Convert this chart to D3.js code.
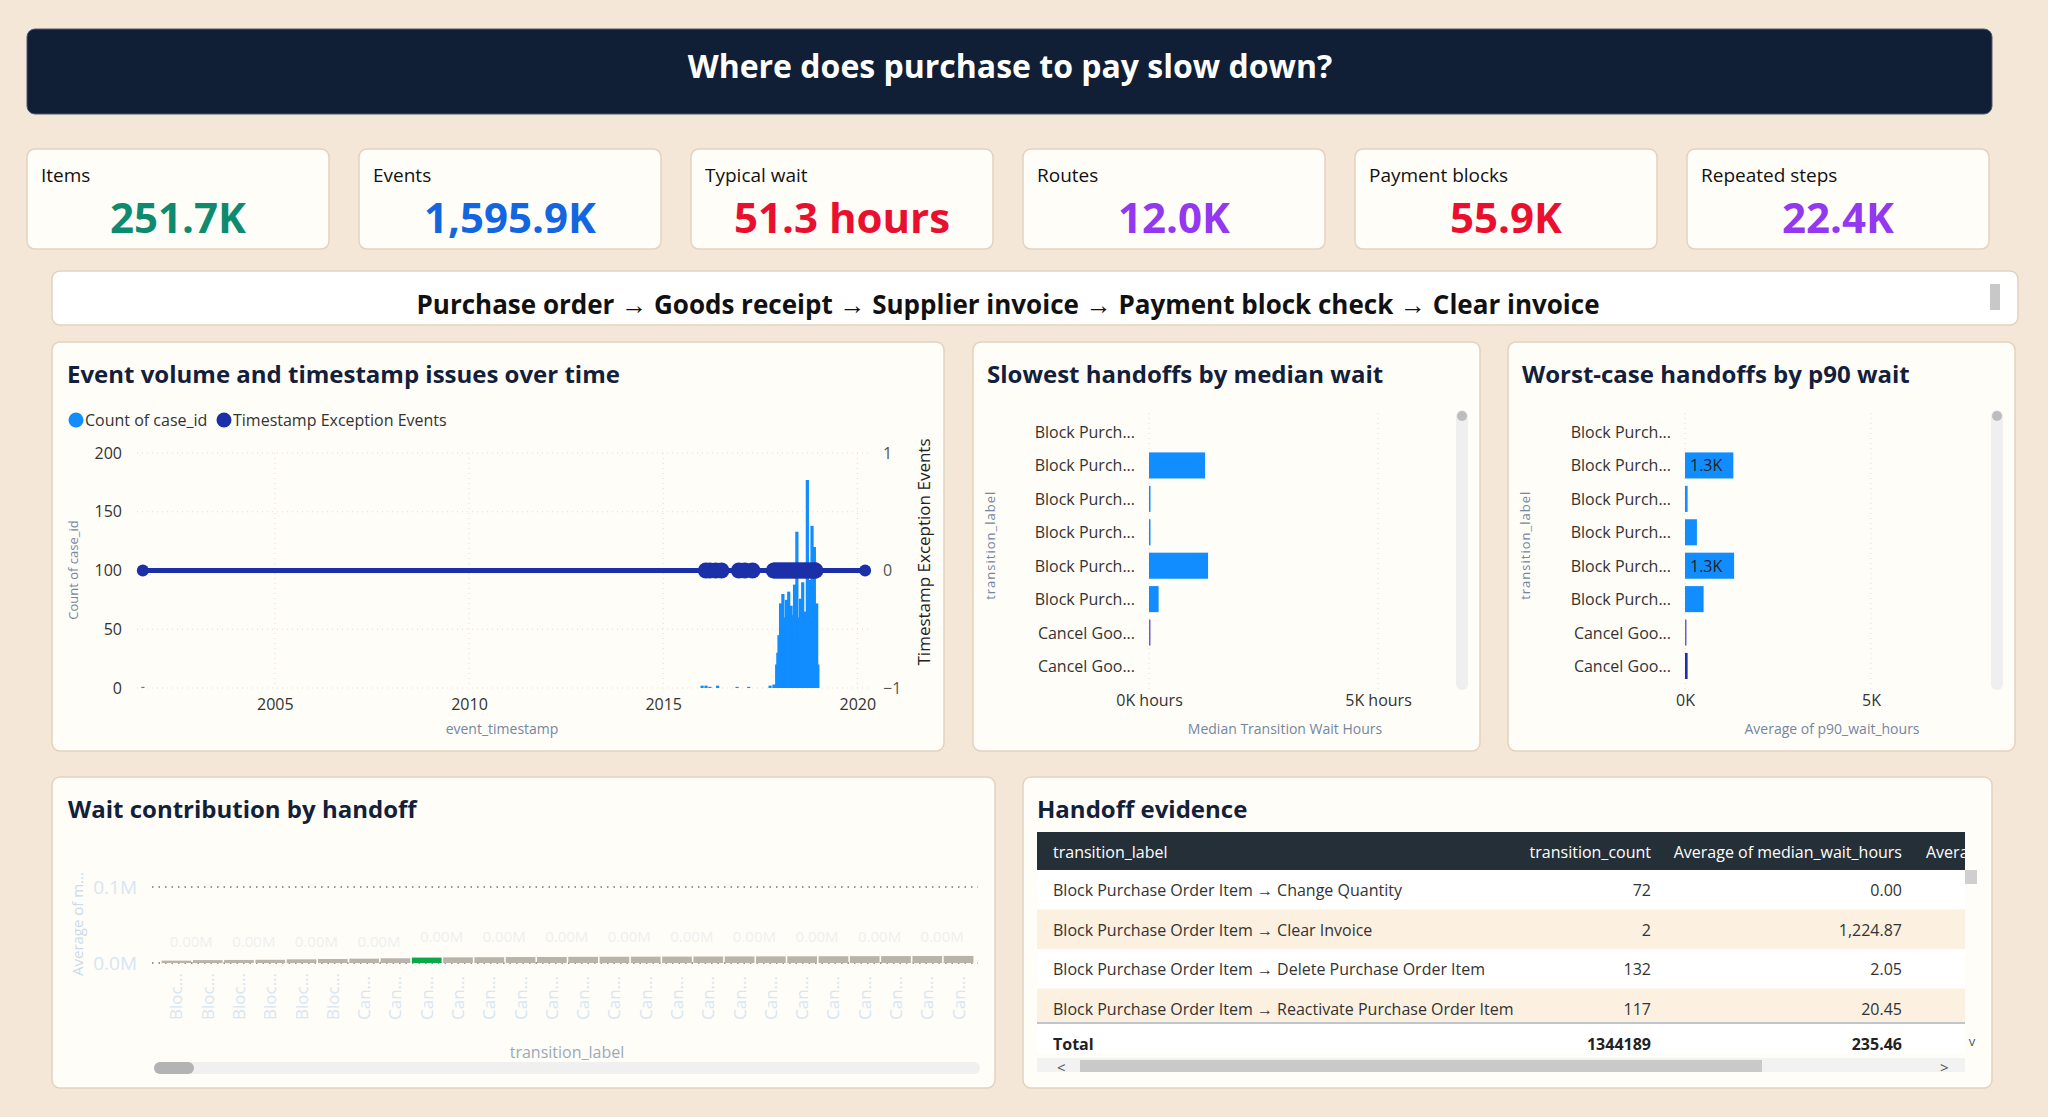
<!DOCTYPE html>
<html><head><meta charset="utf-8">
<script src="https://cdn.jsdelivr.net/npm/d3@7"></script>
<style>
html,body{margin:0;padding:0;background:#F4E7D7;}
svg{display:block;font-family:"Open Sans","Noto Sans",sans-serif;}
</style></head><body>
<svg id="c" width="2048" height="1117"></svg>
<script>
// ---------- data ----------
const pageTitle = "Where does purchase to pay slow down?";
const kpiLabels = ["Items","Events","Typical wait","Routes","Payment blocks","Repeated steps"];
const kpiValues = ["251.7K","1,595.9K","51.3 hours","12.0K","55.9K","22.4K"];
const kpiColors = ["#0E8A6E","#1366E0","#E8102E","#9438F0","#E8102E","#9438F0"];
const processSteps = ["Purchase order","Goods receipt","Supplier invoice","Payment block check","Clear invoice"];

// chart 1
const volumeDates = [2001.6,2016.0,2016.1,2016.2,2016.4,2016.9,2017.2,2017.75,2017.85,
  2017.92,2017.95,2017.98,2018.02,2018.05,2018.08,2018.11,2018.14,2018.17,2018.2,2018.23,2018.26,2018.29,
  2018.32,2018.35,2018.38,2018.41,2018.44,2018.47,2018.5,2018.53,2018.56,2018.59,2018.62,2018.65,2018.68,
  2018.71,2018.74,2018.77,2018.8,2018.83,2018.86,2018.89,2018.92,2018.95,2018.98];
const volumeCounts = [1,2,2,1,2,1,1,2,3,
  20,30,45,72,40,80,60,36,75,50,82,40,70,55,62,88,45,133,60,52,76,48,90,58,65,40,
  177,55,92,30,138,66,120,40,72,20];
const exceptionDates = [2001.6,2016.1,2016.2,2016.35,2016.5,2016.95,2017.1,2017.3,
  2017.85,2017.95,2018.05,2018.15,2018.25,2018.35,2018.45,2018.55,2018.65,2018.75,2018.85,2018.92,2020.2];
const exceptionValues = [0,0,0,0,0,0,0,0,0,0,0,0,0,0,0,0,0,0,0,0,0];
const yearTicks = [2005,2010,2015,2020];
const countTicks = [0,50,100,150,200];
const excTicks = [-1,0,1];

// chart 2 / 3
const handoffLabels = ["Block Purch...","Block Purch...","Block Purch...","Block Purch...","Block Purch...","Block Purch...","Cancel Goo...","Cancel Goo..."];
const medianWait = [0,1225,8,30,1290,210,12,0];
const p90Wait = [0,1300,70,320,1320,500,25,70];
const p90Labels = ["","1.3K","","","1.3K","","",""];
const barColors = ["#118DFF","#118DFF","#118DFF","#118DFF","#118DFF","#118DFF","#6B5FD9","#1A2FA8"];

// chart 4
const contribLabels = ["Bloc...","Bloc...","Bloc...","Bloc...","Bloc...","Bloc...","Can...","Can...","Can...","Can...","Can...","Can...","Can...","Can...","Can...","Can...","Can...","Can...","Can...","Can...","Can...","Can...","Can...","Can...","Can...","Can..."];
const contribValues = [0.0005,0.0012,0.0014,0.0016,0.0022,0.0026,0.0031,0.0036,0.0045,0.0048,0.0050,0.0052,0.0053,0.0055,0.0056,0.0057,0.0058,0.0059,0.0060,0.0061,0.0062,0.0063,0.0064,0.0065,0.0066,0.0067];
const contribHighlight = 8;

// table
const tableHeaders = ["transition_label","transition_count","Average of median_wait_hours","Avera"];
const tableLabels = ["Block Purchase Order Item → Change Quantity","Block Purchase Order Item → Clear Invoice","Block Purchase Order Item → Delete Purchase Order Item","Block Purchase Order Item → Reactivate Purchase Order Item"];
const tableCounts = ["72","2","132","117"];
const tableMedians = ["0.00","1,224.87","2.05","20.45"];
const tableTotal = ["Total","1344189","235.46"];

// ---------- drawing ----------
const svg = d3.select("#c");
const dark = "#12203A";
function panel(x,y,w,h,fill="#FFFDF8"){
  svg.append("rect").attr("x",x).attr("y",y).attr("width",w).attr("height",h).attr("rx",8)
    .attr("fill",fill).attr("stroke","#E2D2BE").attr("stroke-width",1.5);
}
// header
svg.append("rect").attr("x",27).attr("y",29).attr("width",1965).attr("height",85).attr("rx",8).attr("fill","#111F36").attr("stroke","#4A5A75");
svg.append("text").attr("x",1010).attr("y",78).attr("text-anchor","middle").attr("fill","#fff")
  .attr("font-size",32).attr("font-weight",700).text(pageTitle);
// KPIs
kpiLabels.forEach((l,i)=>{
  const x=27+i*332;
  panel(x,149,302,100);
  svg.append("text").attr("x",x+14).attr("y",182).attr("font-size",19).attr("fill","#111").text(l);
  svg.append("text").attr("x",x+151).attr("y",233).attr("text-anchor","middle").attr("font-size",42).attr("font-weight",700).attr("fill",kpiColors[i]).text(kpiValues[i]);
});
// process banner
panel(52,271,1966,54,"#FFFFFF");
svg.append("rect").attr("x",1990).attr("y",284).attr("width",10).attr("height",26).attr("fill","#C8C8C8");
{
  const t=svg.append("text").attr("x",1008).attr("y",314).attr("text-anchor","middle").attr("font-size",26).attr("font-weight",700).attr("fill","#111");
  processSteps.forEach((s,i)=>{
    if(i>0) t.append("tspan").attr("font-weight",400).text(" \u2192 ");
    t.append("tspan").text(s);
  });
}
// ----- chart 1 -----
panel(52,342,892,409);
svg.append("text").attr("x",67).attr("y",383).attr("font-size",24).attr("font-weight",700).attr("fill",dark).text("Event volume and timestamp issues over time");
[[76,"#118DFF","Count of case_id"],[224,"#1A2FA8","Timestamp Exception Events"]].forEach(([x,c,t])=>{
  svg.append("circle").attr("cx",x).attr("cy",420).attr("r",7.5).attr("fill",c);
  svg.append("text").attr("x",x+9).attr("y",426).attr("font-size",16).attr("fill","#333").text(t);
});
{
  const x=d3.scaleLinear().domain([2001.45,2020.3]).range([137,869]);
  const y=d3.scaleLinear().domain([0,200]).range([688,453]);
  const y2=d3.scaleLinear().domain([-1,1]).range([688,453]);
  const g=svg.append("g");
  countTicks.forEach(t=>g.append("line").attr("x1",137).attr("x2",869).attr("y1",y(t)).attr("y2",y(t)).attr("stroke","#E8DCCB").attr("stroke-dasharray","1,4"));
  yearTicks.forEach(t=>g.append("line").attr("x1",x(t)).attr("x2",x(t)).attr("y1",453).attr("y2",688).attr("stroke","#E8DCCB").attr("stroke-dasharray","1,4"));
  g.append("g").attr("transform","translate(125,0)").call(d3.axisLeft(y).tickValues(countTicks).tickSize(0))
   .call(a=>{a.select(".domain").remove();a.selectAll("text").attr("font-size",16).attr("fill","#333").attr("font-family","Open Sans");});
  g.append("g").attr("transform","translate(880,0)").call(d3.axisRight(y2).tickValues(excTicks).tickSize(0).tickFormat(d3.format("d")))
   .call(a=>{a.select(".domain").remove();a.selectAll("text").attr("font-size",16).attr("fill","#555").attr("font-family","Open Sans");});
  g.append("g").attr("transform","translate(0,696)").call(d3.axisBottom(x).tickValues(yearTicks).tickSize(0).tickFormat(d3.format("d")))
   .call(a=>{a.select(".domain").remove();a.selectAll("text").attr("font-size",16).attr("fill","#333").attr("font-family","Open Sans");});
  g.selectAll(".vb").data(volumeDates).join("rect").attr("fill","#118DFF")
   .attr("x",d=>x(d)-1.5).attr("width",3.2)
   .attr("y",(d,i)=>y(volumeCounts[i])).attr("height",(d,i)=>688-y(volumeCounts[i]));
  g.append("line").attr("x1",x(2001.6)).attr("x2",x(2020.2)).attr("y1",y2(0)).attr("y2",y2(0)).attr("stroke","#1A2FA8").attr("stroke-width",5);
  g.selectAll(".ed").data(exceptionDates).join("circle").attr("cx",d=>x(d)).attr("cy",(d,i)=>y2(exceptionValues[i]))
   .attr("r",(d,i)=>(i===0||i===exceptionDates.length-1)?6:8).attr("fill","#1A2FA8");
  g.append("rect").attr("x",x(2017.83)).attr("y",y2(0)-8).attr("width",x(2018.97)-x(2017.83)).attr("height",16).attr("fill","#1A2FA8");
  svg.append("text").attr("transform","translate(78,570) rotate(-90)").attr("text-anchor","middle").attr("font-size",13).attr("fill","#7486A0").text("Count of case_id");
  svg.append("text").attr("transform","translate(930,552) rotate(-90)").attr("text-anchor","middle").attr("font-size",17).attr("fill","#222").text("Timestamp Exception Events");
  svg.append("text").attr("x",502).attr("y",734).attr("text-anchor","middle").attr("font-size",14).attr("fill","#7486A0").text("event_timestamp");
}
// ----- chart 2 & 3 -----
function hbar(px,vals,x0,x1,maxV,tickVals,tickFmt,title,axisTitle,axisTitleX,labels){
  panel(px,342,507,409);
  svg.append("text").attr("x",px+14).attr("y",383).attr("font-size",24).attr("font-weight",700).attr("fill",dark).text(title);
  const x=d3.scaleLinear().domain([0,maxV]).range([x0,x1]);
  const y=d3.scaleBand().domain(d3.range(vals.length)).range([419,679]).paddingInner(0.22).paddingOuter(0);
  tickVals.forEach(t=>svg.append("line").attr("x1",x(t)).attr("x2",x(t)).attr("y1",413).attr("y2",690).attr("stroke","#E8DCCB").attr("stroke-dasharray","1,4"));
  svg.append("g").attr("transform","translate(0,692)").call(d3.axisBottom(x).tickValues(tickVals).tickSize(0).tickFormat(tickFmt))
   .call(a=>{a.select(".domain").remove();a.selectAll("text").attr("font-size",16).attr("fill","#333").attr("font-family","Open Sans");});
  handoffLabels.forEach((l,i)=>svg.append("text").attr("x",x0-14).attr("y",y(i)+y.bandwidth()/2+6).attr("text-anchor","end").attr("font-size",16).attr("fill","#333").text(l));
  svg.selectAll(null).data(vals).join("rect").attr("x",x0).attr("y",(d,i)=>y(i)).attr("height",y.bandwidth())
    .attr("width",d=>d>0?Math.max(1.5,x(d)-x0):0).attr("fill",(d,i)=>barColors[i]);
  if(labels) labels.forEach((t,i)=>{ if(t) svg.append("text").attr("x",x0+5).attr("y",y(i)+y.bandwidth()/2+6).attr("font-size",16).attr("fill","#222").text(t);});
  svg.append("text").attr("transform",`translate(${px+22},${y(3)+y.bandwidth()}) rotate(-90)`).attr("text-anchor","middle").attr("font-size",13).attr("fill","#7486A0").attr("letter-spacing",1).text("transition_label");
  svg.append("text").attr("x",axisTitleX).attr("y",734).attr("text-anchor","middle").attr("font-size",14).attr("fill","#7486A0").text(axisTitle);
  svg.append("rect").attr("x",px+483).attr("y",410).attr("width",12).attr("height",280).attr("rx",6).attr("fill","#EFEFEF");
  svg.append("circle").attr("cx",px+489).attr("cy",416).attr("r",5).attr("fill","#BDBDBD");
}
hbar(973,medianWait,1149,1378,5000,[0,5000],d=>d3.format(".0f")(d/1000)+"K hours","Slowest handoffs by median wait","Median Transition Wait Hours",1285);
hbar(1508,p90Wait,1685,1871,5000,[0,5000],d=>d3.format(".0f")(d/1000)+"K","Worst-case handoffs by p90 wait","Average of p90_wait_hours",1832,p90Labels);

// ----- chart 4 -----
panel(52,777,943,311);
svg.append("text").attr("x",68).attr("y",818).attr("font-size",24).attr("font-weight",700).attr("fill",dark).text("Wait contribution by handoff");
{
  const x=d3.scaleBand().domain(d3.range(contribLabels.length)).range([160,975]).padding(0.05);
  const y=d3.scaleLinear().domain([0,0.1]).range([963,887]);
  [0,0.1].forEach(t=>svg.append("line").attr("x1",152).attr("x2",978).attr("y1",y(t)).attr("y2",y(t)).attr("stroke","#333").attr("stroke-dasharray","1.5,5"));
  svg.append("g").attr("transform","translate(140,0)").call(d3.axisLeft(y).tickValues([0,0.1]).tickSize(0).tickFormat(d=>d3.format(".1f")(d)+"M"))
   .call(a=>{a.select(".domain").remove();a.selectAll("text").attr("font-size",19).attr("fill","#D6E6F2").attr("font-family","Open Sans");});
  svg.selectAll(null).data(contribValues).join("rect").attr("x",(d,i)=>x(i)).attr("width",x.bandwidth())
    .attr("y",d=>y(d)-2).attr("height",d=>963-y(d)+2).attr("fill",(d,i)=>i===contribHighlight?"#0BA84A":"#B9B4AA");
  contribValues.forEach((d,i)=>{ if(i%2===0) svg.append("text").attr("x",x(i)+x.bandwidth()).attr("y",947-(i>7?5:0)).attr("text-anchor","middle").attr("font-size",15).attr("fill","#EEF0EE").text("0.00M");});
  contribLabels.forEach((l,i)=>svg.append("text").attr("transform",`translate(${x(i)+x.bandwidth()/2+6},1020) rotate(-90)`).attr("font-size",17).attr("fill","#D6E6F2").text(l));
  svg.append("text").attr("transform","translate(83,924) rotate(-90)").attr("text-anchor","middle").attr("font-size",15).attr("fill","#C9DBEA").text("Average of m...");
  svg.append("text").attr("x",567).attr("y",1058).attr("text-anchor","middle").attr("font-size",16).attr("fill","#9AAABB").text("transition_label");
  svg.append("rect").attr("x",154).attr("y",1062).attr("width",826).attr("height",12).attr("rx",6).attr("fill","#F0F0F0");
  svg.append("rect").attr("x",154).attr("y",1062).attr("width",40).attr("height",12).attr("rx",6).attr("fill","#B3B3B3");
}
// ----- table -----
panel(1023,777,969,311);
svg.append("text").attr("x",1037).attr("y",818).attr("font-size",24).attr("font-weight",700).attr("fill",dark).text("Handoff evidence");
{
  const tx=1037, right=1965;
  svg.append("clipPath").attr("id","tc").append("rect").attr("x",tx).attr("y",830).attr("width",right-tx).attr("height",250);
  const g=svg.append("g").attr("clip-path","url(#tc)");
  g.append("rect").attr("x",tx).attr("y",832).attr("width",right-tx).attr("height",38).attr("fill","#252F38");
  const colX=[1053,1651,1902,1926], anchors=["start","end","end","start"];
  tableHeaders.forEach((h,i)=>g.append("text").attr("x",colX[i]).attr("y",858).attr("text-anchor",anchors[i]).attr("font-size",16).attr("fill","#fff").text(h));
  tableLabels.forEach((l,r)=>{
    const y0=870+r*39.5;
    g.append("rect").attr("x",tx).attr("y",y0).attr("width",right-tx).attr("height",39.5).attr("fill",r%2?"#FCF0E0":"#FFFFFF");
    g.append("text").attr("x",colX[0]).attr("y",y0+26).attr("font-size",16).attr("fill","#333").text(l);
    g.append("text").attr("x",colX[1]).attr("y",y0+26).attr("text-anchor","end").attr("font-size",16).attr("fill","#333").text(tableCounts[r]);
    g.append("text").attr("x",colX[2]).attr("y",y0+26).attr("text-anchor","end").attr("font-size",16).attr("fill","#333").text(tableMedians[r]);
  });
  g.append("rect").attr("x",tx).attr("y",1023).attr("width",right-tx).attr("height",30).attr("fill","#FFFFFF");
  g.append("line").attr("x1",tx).attr("x2",right).attr("y1",1023).attr("y2",1023).attr("stroke","#BFC5CC").attr("stroke-width",2);
  tableTotal.forEach((t,i)=>g.append("text").attr("x",colX[i]).attr("y",1050).attr("text-anchor",anchors[i]).attr("font-size",16).attr("font-weight",700).attr("fill","#222").text(t));
  svg.append("text").attr("x",1972).attr("y",858).attr("text-anchor","middle").attr("font-size",13).attr("fill","#fff").text("^");
  svg.append("rect").attr("x",1965).attr("y",870).attr("width",12).attr("height",14).attr("fill","#CFCFCF");
  svg.append("text").attr("x",1972).attr("y",1046).attr("text-anchor","middle").attr("font-size",13).attr("fill","#555").text("v");
  svg.append("rect").attr("x",tx).attr("y",1058).attr("width",right-tx).attr("height",14).attr("fill","#F2F2F2");
  svg.append("rect").attr("x",1080).attr("y",1060).attr("width",682).attr("height",12).attr("fill","#C9C9C9");
  svg.append("text").attr("x",1057).attr("y",1073).attr("font-size",15).attr("fill","#555").text("<");
  svg.append("text").attr("x",1940).attr("y",1073).attr("font-size",15).attr("fill","#555").text(">");
}
</script></body></html>
